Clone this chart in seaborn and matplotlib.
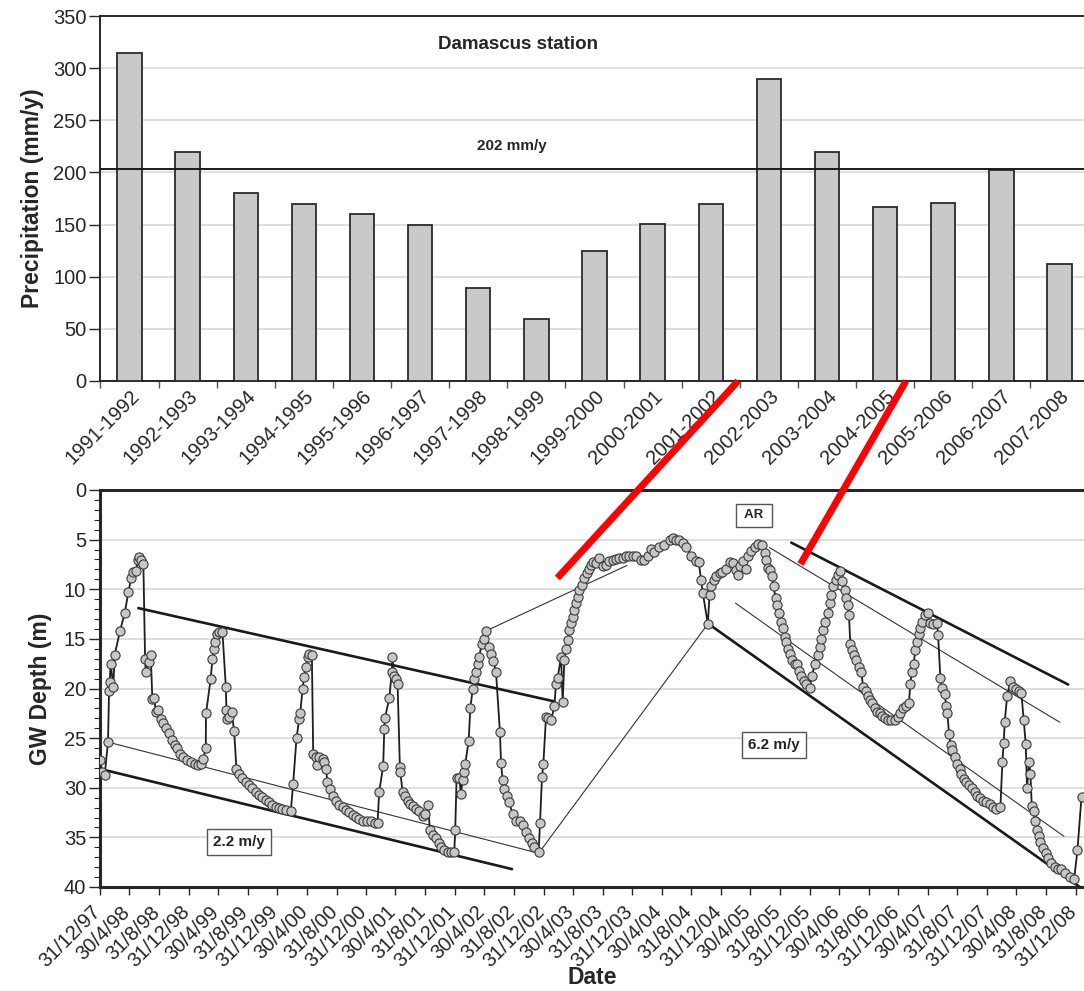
import numpy as np
import pandas as pd
import matplotlib
matplotlib.use("Agg")
import matplotlib.pyplot as plt
import matplotlib.dates as mdates
import matplotlib.transforms as mtransforms
from matplotlib.patches import ConnectionPatch
from matplotlib.ticker import MultipleLocator
import seaborn as sns

# ---- data ----
seasons = ["1991-1992", "1992-1993", "1993-1994", "1994-1995", "1995-1996",
           "1996-1997", "1997-1998", "1998-1999", "1999-2000", "2000-2001",
           "2001-2002", "2002-2003", "2003-2004", "2004-2005", "2005-2006",
           "2006-2007", "2007-2008"]
precip = [315, 220, 180, 170, 160, 150, 89, 59, 125, 151, 170, 290, 220, 167,
          171, 202, 112]
mean_level = 203.5
mean_label = "202 mm/y"

# groundwater depth, time as decimal year (1998.0 = 31/12/97)
gw_year = [
    1998.000, 1998.026, 1998.053, 1998.090, 1998.102, 1998.109, 1998.120, 1998.150,
    1998.165, 1998.226, 1998.278, 1998.320, 1998.350, 1998.376, 1998.402, 1998.429,
    1998.440, 1998.466, 1998.489, 1998.508, 1998.515, 1998.553, 1998.572, 1998.590,
    1998.613, 1998.628, 1998.658, 1998.684, 1998.711, 1998.741, 1998.778, 1998.816,
    1998.846, 1998.872, 1998.899, 1998.936, 1998.985, 1999.023, 1999.072, 1999.109,
    1999.143, 1999.166, 1999.192, 1999.195, 1999.248, 1999.267, 1999.286, 1999.297,
    1999.316, 1999.342, 1999.380, 1999.418, 1999.425, 1999.436, 1999.455, 1999.485,
    1999.512, 1999.538, 1999.568, 1999.606, 1999.643, 1999.681, 1999.718, 1999.756,
    1999.794, 1999.831, 1999.869, 1999.906, 1999.944, 1999.982, 2000.019, 2000.057,
    2000.102, 2000.151, 2000.177, 2000.215, 2000.245, 2000.256, 2000.283, 2000.301,
    2000.320, 2000.339, 2000.358, 2000.388, 2000.403, 2000.433, 2000.444, 2000.470,
    2000.508, 2000.527, 2000.546, 2000.564, 2000.591, 2000.621, 2000.658, 2000.696,
    2000.734, 2000.771, 2000.809, 2000.846, 2000.884, 2000.922, 2000.959, 2001.004,
    2001.053, 2001.102, 2001.128, 2001.147, 2001.192, 2001.204, 2001.211, 2001.260,
    2001.290, 2001.295, 2001.316, 2001.335, 2001.354, 2001.380, 2001.385, 2001.410,
    2001.437, 2001.467, 2001.493, 2001.523, 2001.561, 2001.598, 2001.636, 2001.666,
    2001.696, 2001.719, 2001.749, 2001.786, 2001.816, 2001.843, 2001.880, 2001.918,
    2001.956, 2001.993, 2002.004, 2002.019, 2002.050, 2002.068, 2002.087, 2002.106,
    2002.117, 2002.155, 2002.174, 2002.200, 2002.219, 2002.238, 2002.257, 2002.275,
    2002.302, 2002.332, 2002.350, 2002.380, 2002.407, 2002.433, 2002.463, 2002.508,
    2002.520, 2002.538, 2002.557, 2002.583, 2002.606, 2002.651, 2002.689, 2002.734,
    2002.772, 2002.802, 2002.839, 2002.869, 2002.895, 2002.944, 2002.959, 2002.982,
    2002.997, 2003.027, 2003.046, 2003.084, 2003.121, 2003.140, 2003.159, 2003.197,
    2003.215, 2003.234, 2003.253, 2003.272, 2003.290, 2003.309, 2003.328, 2003.347,
    2003.366, 2003.385, 2003.403, 2003.430, 2003.460, 2003.486, 2003.516, 2003.535,
    2003.561, 2003.591, 2003.629, 2003.666, 2003.704, 2003.742, 2003.779, 2003.817,
    2003.854, 2003.892, 2003.930, 2003.967, 2004.005, 2004.043, 2004.099, 2004.137,
    2004.174, 2004.212, 2004.249, 2004.306, 2004.362, 2004.419, 2004.456, 2004.494,
    2004.531, 2004.569, 2004.607, 2004.663, 2004.719, 2004.749, 2004.776, 2004.795,
    2004.851, 2004.870, 2004.889, 2004.915, 2004.945, 2004.983, 2005.013, 2005.058,
    2005.096, 2005.134, 2005.163, 2005.190, 2005.216, 2005.246, 2005.276, 2005.302,
    2005.340, 2005.378, 2005.415, 2005.464, 2005.490, 2005.509, 2005.528, 2005.547,
    2005.577, 2005.592, 2005.614, 2005.629, 2005.652, 2005.671, 2005.697, 2005.716,
    2005.735, 2005.754, 2005.772, 2005.803, 2005.829, 2005.859, 2005.878, 2005.904,
    2005.931, 2005.961, 2005.998, 2006.028, 2006.055, 2006.092, 2006.111, 2006.130,
    2006.149, 2006.168, 2006.205, 2006.224, 2006.243, 2006.262, 2006.292, 2006.318,
    2006.345, 2006.367, 2006.394, 2006.412, 2006.431, 2006.442, 2006.457, 2006.476,
    2006.495, 2006.525, 2006.555, 2006.581, 2006.600, 2006.630, 2006.656, 2006.682,
    2006.705, 2006.731, 2006.757, 2006.787, 2006.817, 2006.843, 2006.881, 2006.919,
    2006.956, 2006.994, 2007.020, 2007.050, 2007.088, 2007.118, 2007.133, 2007.152,
    2007.171, 2007.190, 2007.209, 2007.227, 2007.246, 2007.265, 2007.295, 2007.333,
    2007.351, 2007.389, 2007.434, 2007.446, 2007.472, 2007.487, 2007.521, 2007.540,
    2007.551, 2007.570, 2007.589, 2007.608, 2007.634, 2007.660, 2007.690, 2007.709,
    2007.735, 2007.765, 2007.795, 2007.833, 2007.859, 2007.885, 2007.915, 2007.953,
    2007.991, 2008.028, 2008.066, 2008.103, 2008.149, 2008.171, 2008.186, 2008.197,
    2008.224, 2008.261, 2008.291, 2008.321, 2008.359, 2008.385, 2008.412, 2008.434,
    2008.449, 2008.472, 2008.487, 2008.502, 2008.525, 2008.540, 2008.562, 2008.585,
    2008.600, 2008.630, 2008.660, 2008.686, 2008.724, 2008.761, 2008.799, 2008.837,
    2008.874, 2008.931, 2008.980, 2009.017, 2009.063,
]
gw_depth = [
    27.2, 28.4, 28.7, 25.4, 20.3, 19.3, 17.5, 19.8,
    16.6, 14.2, 12.4, 10.3, 8.9, 8.3, 8.2, 7.1,
    6.8, 7.1, 7.5, 17.0, 18.3, 17.3, 16.6, 21.1,
    21.0, 22.4, 22.2, 23.1, 23.5, 24.0, 24.5, 25.2,
    25.7, 26.0, 26.6, 26.9, 27.2, 27.4, 27.6, 27.7,
    27.6, 27.1, 26.0, 22.5, 19.0, 17.0, 16.0, 15.3,
    14.5, 14.3, 14.3, 19.8, 22.2, 23.1, 22.9, 22.4,
    24.3, 28.1, 28.6, 29.0, 29.4, 29.7, 30.0, 30.4,
    30.7, 30.9, 31.2, 31.4, 31.7, 31.9, 32.0, 32.1,
    32.2, 32.3, 29.6, 25.0, 23.1, 22.5, 20.1, 18.8,
    17.8, 16.8, 16.5, 16.6, 26.6, 26.9, 27.7, 26.9,
    27.1, 27.4, 28.1, 29.4, 30.1, 30.8, 31.3, 31.7,
    31.9, 32.2, 32.4, 32.7, 32.9, 33.1, 33.3, 33.3,
    33.4, 33.6, 33.6, 30.4, 27.8, 24.1, 23.0, 21.0,
    18.3, 16.8, 18.7, 19.0, 19.5, 27.9, 28.4, 30.4,
    30.8, 31.3, 31.6, 31.8, 32.1, 32.3, 32.8, 32.6,
    31.7, 34.3, 34.8, 35.1, 35.6, 36.0, 36.3, 36.5,
    36.5, 36.5, 34.3, 29.0, 29.0, 30.6, 29.2, 28.4,
    27.6, 25.3, 22.0, 20.1, 19.0, 18.3, 17.5, 16.8,
    15.5, 15.0, 14.2, 15.8, 16.5, 17.2, 18.3, 24.4,
    27.5, 29.2, 30.1, 30.8, 31.4, 32.6, 33.3, 33.4,
    33.8, 34.5, 35.1, 35.6, 36.0, 36.5, 33.6, 28.9,
    27.6, 22.9, 23.0, 23.2, 21.8, 19.5, 18.9, 16.8,
    21.4, 17.1, 16.0, 15.1, 14.1, 13.4, 12.8, 12.1,
    11.4, 10.8, 10.1, 9.6, 8.9, 8.4, 8.0, 7.6,
    7.3, 7.4, 6.9, 7.7, 7.6, 7.2, 7.1, 7.0,
    6.9, 6.9, 6.7, 6.7, 6.7, 6.7, 7.1, 7.1,
    6.7, 5.9, 6.2, 5.7, 5.5, 5.0, 4.8, 5.0,
    5.0, 5.3, 5.7, 6.6, 7.2, 7.3, 9.1, 10.4,
    13.5, 10.6, 9.7, 9.1, 8.7, 8.4, 8.3, 8.0,
    7.3, 7.4, 8.1, 8.6, 7.7, 7.2, 8.0, 6.6,
    6.1, 5.7, 5.4, 5.5, 6.3, 7.1, 7.9, 8.1,
    8.7, 9.7, 10.9, 11.6, 12.4, 13.3, 13.9, 14.8,
    15.3, 16.0, 16.5, 17.1, 17.5, 17.5, 18.2, 18.7,
    19.2, 19.5, 19.9, 18.7, 17.5, 16.6, 15.8, 15.0,
    14.1, 13.3, 12.4, 11.4, 10.6, 9.7, 9.1, 8.6,
    8.2, 9.2, 10.1, 10.9, 11.6, 12.6, 15.5, 16.1,
    16.6, 17.1, 17.8, 18.3, 19.8, 20.3, 20.8, 21.2,
    21.5, 22.0, 22.4, 22.5, 22.8, 23.0, 23.2, 23.2,
    23.2, 22.9, 22.5, 22.0, 21.8, 21.5, 19.5, 18.3,
    17.5, 16.1, 15.3, 14.5, 13.9, 13.3, 12.6, 12.4,
    13.4, 13.5, 13.4, 14.6, 18.9, 19.9, 20.6, 21.8,
    22.5, 24.6, 25.7, 26.2, 26.9, 27.6, 28.1, 28.6,
    29.1, 29.4, 29.7, 30.0, 30.4, 30.8, 31.0, 31.3,
    31.4, 31.6, 31.9, 32.1, 31.9, 27.4, 25.5, 23.4,
    20.8, 19.2, 19.8, 20.1, 20.3, 20.5, 23.2, 25.6,
    30.0, 27.4, 28.6, 31.8, 32.3, 33.4, 34.3, 34.9,
    35.5, 36.1, 36.6, 37.1, 37.6, 38.0, 38.2, 38.2,
    38.6, 39.0, 39.2, 36.3, 30.9,
]

date_labels = ["31/12/97", "30/4/98", "31/8/98", "31/12/98", "30/4/99", "31/8/99",
               "31/12/99", "30/4/00", "31/8/00", "31/12/00", "30/4/01", "31/8/01",
               "31/12/01", "30/4/02", "31/8/02", "31/12/02", "30/4/03", "31/8/03",
               "31/12/03", "30/4/04", "31/8/04", "31/12/04", "30/4/05", "31/8/05",
               "31/12/05", "30/4/06", "31/8/06", "31/12/06", "30/4/07", "31/8/07",
               "31/12/07", "30/4/08", "31/8/08", "31/12/08"]

# trend lines: (year, depth) start and end
thick_lines = [((1998.432, 11.9), (2003.121, 21.3)),
               ((1998.000, 28.1), (2002.644, 38.2)),
               ((2004.907, 13.8), (2009.043, 40.0)),
               ((2005.791, 5.3), (2008.912, 19.6))]
thin_lines = [((1998.090, 25.4), (2002.944, 36.6)),
              ((2002.944, 36.6), (2004.851, 13.5)),
              ((2002.350, 14.2), (2003.940, 7.6)),
              ((2005.546, 5.8), (2008.818, 23.4)),
              ((2005.163, 11.4), (2008.866, 34.9))]
# boxed labels: text, year, depth
boxes = [("2.2 m/y", 1999.568, 35.5), ("6.2 m/y", 2005.595, 25.7), (" AR ", 2005.370, 2.55)]
# red connectors: (year, depth) on lower chart -> (bar position, mm) on upper chart
red_links = [((2003.155, 8.87), (10.47, 0)), ((2005.896, 7.46), (13.36, 0))]

base_day = pd.Timestamp("1997-12-31")


def year_to_date(y):
    return base_day + pd.Timedelta(days=(y - 1998.0) * 365.25)


sns.set_style("ticks")
plt.rcParams["font.family"] = ["Liberation Sans", "DejaVu Sans"]
plt.rcParams["axes.edgecolor"] = "#262626"

fig = plt.figure(figsize=(10.84, 9.91), dpi=100)

# ---- top: precipitation bars ----
ax1 = fig.add_axes([100.5 / 1084, 1 - 381 / 991, 988 / 1084, 365 / 991])
sns.barplot(x=seasons, y=precip, color="#c8c9cb", saturation=1, width=0.42,
            edgecolor="#2b2b2b", linewidth=1.3, ax=ax1, zorder=3)
ax1.set_xlim(-0.5, 16.5)
ax1.set_ylim(0, 350)
ax1.set_yticks(range(0, 351, 50))
ax1.yaxis.grid(True, color="#d6d6d6", lw=1.1)
ax1.set_axisbelow(True)
ax1.axhline(mean_level, color="#1a1a1a", lw=1.4, zorder=4)
ax1.text(6.58, 225, mean_label, ha="center", va="center", fontsize=11, fontweight="bold")
ax1.text(6.69, 323, "Damascus station", ha="center", va="center", fontsize=13.5,
         fontweight="bold")
ax1.set_xticks(range(len(seasons)))
ax1.set_xticklabels(seasons, rotation=45, ha="right", rotation_mode="anchor")
ax1.set_xticks(np.arange(-0.5, len(seasons), 1), minor=True)
ax1.tick_params(axis="x", which="major", length=0, pad=4, labelsize=14.5)
ax1.tick_params(axis="x", which="minor", length=5, width=1, color="#555")
ax1.tick_params(axis="y", length=8, width=1, labelsize=14.5, pad=2)
ax1.set_xlabel("")
ax1.set_ylabel("Precipitation (mm/y)", fontsize=16.5, fontweight="bold")
ax1.yaxis.set_label_coords(-0.057, 0.5)
for s in ["left", "bottom", "top"]:
    ax1.spines[s].set_linewidth(1.4)
ax1.spines["right"].set_visible(False)

# ---- bottom: groundwater depth ----
ax2 = fig.add_axes([100 / 1084, 1 - 887 / 991, 984 / 1084, 397 / 991])
gw = pd.DataFrame({"date": [year_to_date(y) for y in gw_year], "depth": gw_depth})
sns.lineplot(data=gw, x="date", y="depth", estimator=None, sort=False, ax=ax2,
             color="#1e1e1e", lw=1.3, marker="o", markersize=6.6,
             markerfacecolor="#c6c6c6", markeredgecolor="#3a3a3a",
             markeredgewidth=0.8, zorder=5)

tick_dates = pd.to_datetime(date_labels, format="%d/%m/%y")
span = tick_dates[-1] - tick_dates[0]
ax2.set_xlim(tick_dates[0], tick_dates[-1] + span * (8 / 975))
ax2.set_ylim(40, 0)
ax2.yaxis.set_major_locator(MultipleLocator(5))
ax2.yaxis.set_minor_locator(MultipleLocator(1))
ax2.yaxis.grid(True, which="major", color="#d6d6d6", lw=1.1)
ax2.set_axisbelow(True)
ax2.tick_params(axis="x", length=6, width=1, labelsize=14.5, pad=5)
ax2.tick_params(axis="y", which="major", length=8, width=1, labelsize=14.5, pad=2)
ax2.tick_params(axis="y", which="minor", length=4, width=0.8, left=True)
ax2.set_xticks(tick_dates)
ax2.set_xticklabels(date_labels, rotation=45, ha="right", rotation_mode="anchor")
# nudge the date labels a little left of their ticks, as in the original
shift = mtransforms.ScaledTranslation(-9 / 100, 0, fig.dpi_scale_trans)
for lab in ax2.get_xticklabels():
    lab.set_transform(lab.get_transform() + shift)
for s in ["left", "bottom", "top"]:
    ax2.spines[s].set_linewidth(2.2)
ax2.spines["right"].set_visible(False)
ax2.set_xlabel("Date", fontsize=16.5, fontweight="bold")
ax2.xaxis.set_label_coords(0.5, -0.2)
ax2.set_ylabel("GW Depth (m)", fontsize=16.5, fontweight="bold")
ax2.yaxis.set_label_coords(-0.049, 0.5)

for (y0, d0), (y1, d1) in thick_lines:
    ax2.plot([year_to_date(y0), year_to_date(y1)], [d0, d1], color="#1a1a1a", lw=1.9, zorder=4)
for (y0, d0), (y1, d1) in thin_lines:
    ax2.plot([year_to_date(y0), year_to_date(y1)], [d0, d1], color="#333333", lw=0.8, zorder=4)

for label, y, d in boxes:
    ax2.text(mdates.date2num(year_to_date(y)), d, label, ha="center", va="center",
             fontsize=11 if "m/y" in label else 9.5, fontweight="bold", zorder=6,
             bbox=dict(boxstyle="square,pad=0.4", fc="white", ec="#555555", lw=1))

# red connectors, given as raw transforms so no unit conversion is attempted
for (y, d), (bx, by) in red_links:
    con = ConnectionPatch(xyA=(mdates.date2num(year_to_date(y)), d), coordsA=ax2.transData,
                          xyB=(bx, by), coordsB=ax1.transData,
                          color="#ff0000", lw=5, capstyle="butt", zorder=10)
    con.set_annotation_clip(False)
    fig.add_artist(con)

fig.savefig("out.png", dpi=100)
